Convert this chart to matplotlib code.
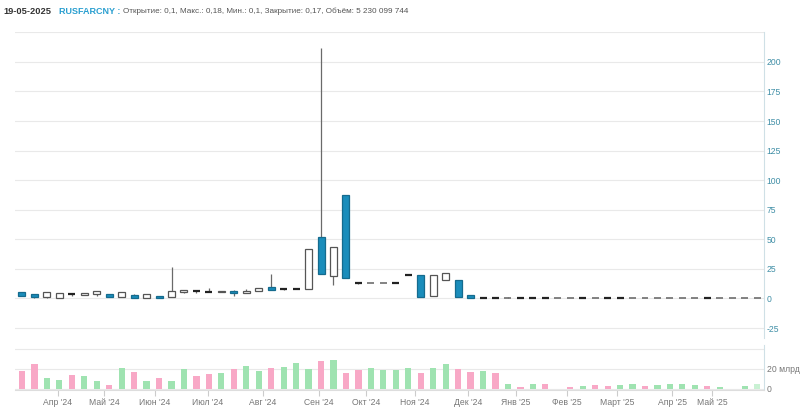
import matplotlib
matplotlib.use("Agg")
import matplotlib.pyplot as plt
import numpy as np

plt.rcParams['font.family'] = ['Liberation Sans', 'DejaVu Sans']

# ---- data (weekly candles, RUSFARCNY) ----
opens  = [5.2, 3.5, 1.0, 0.8, 3.7, 3.0, 3.5, 3.5, 1.0, 3.0,
          0.6, 2.4, 1.0, 5.2, 6.1, 5.8, 5.2, 6.6, 4.4, 6.3,
          10.0, 7.8, 8.0, 8.3, 51.7, 19.3, 87.5, 12.8, 12.9, 13.3,
          13.4, 20.1, 19.6, 2.4, 15.6, 15.6, 3.0, 0.3, 0.3, 0.2,
          0.3, 0.3, 0.3, 0.2, 0.2, 0.3, 0.2, 0.3, 0.3, 0.2,
          0.2, 0.2, 0.2, 0.2, 0.2, 0.3, 0.2, 0.2, 0.2, 0.1]
highs  = [5.5, 3.8, 5.9, 5.0, 4.6, 5.0, 6.5, 3.7, 5.3, 4.2,
          4.1, 2.5, 26.6, 7.4, 7.5, 9.1, 6.4, 6.8, 8.3, 8.8,
          20.7, 8.0, 8.2, 42.0, 211.5, 43.5, 87.6, 13.0, 13.1, 13.5,
          13.5, 20.3, 20.0, 19.7, 21.5, 15.8, 3.1, 0.5, 0.9, 1.0,
          0.4, 0.4, 0.4, 0.3, 0.3, 0.4, 0.3, 0.4, 0.4, 0.3,
          0.3, 0.3, 0.3, 0.3, 0.3, 0.4, 0.3, 0.3, 0.3, 0.18]
lows   = [2.2, 0.8, 0.8, 0.6, 1.8, 2.8, 2.4, 0.9, 0.9, 0.5,
          0.5, 0.2, 0.9, 5.0, 4.5, 5.6, 5.1, 2.1, 4.3, 6.0,
          6.8, 7.6, 7.8, 8.2, 20.5, 11.4, 17.2, 12.6, 12.9, 13.3,
          13.3, 19.9, 1.4, 2.3, 15.5, 1.0, 0.6, 0.1, 0.1, 0.0,
          0.1, 0.1, 0.1, 0.1, 0.1, 0.1, 0.1, 0.1, 0.1, 0.1,
          0.1, 0.1, 0.1, 0.1, 0.1, 0.1, 0.1, 0.1, 0.1, 0.1]
closes = [2.4, 1.0, 5.7, 4.9, 3.6, 4.9, 6.3, 1.0, 5.2, 0.6,
          4.0, 0.3, 6.3, 7.3, 6.0, 5.7, 6.3, 4.4, 6.6, 8.6,
          6.9, 7.8, 8.0, 41.8, 20.7, 43.3, 17.3, 12.8, 13.0, 13.4,
          13.3, 20.1, 1.5, 19.6, 21.3, 1.0, 0.7, 0.2, 0.3, 0.25,
          0.2, 0.2, 0.2, 0.25, 0.25, 0.2, 0.25, 0.2, 0.2, 0.25,
          0.25, 0.25, 0.25, 0.25, 0.25, 0.2, 0.25, 0.25, 0.25, 0.17]

# volume, billions
volumes = [18, 25.3, 11.3, 8.7, 14.3, 13.3, 8, 4.3, 20.7, 17.3,
           8.3, 11.3, 8, 20, 12.7, 15.3, 16, 20, 22.7, 18,
           20.7, 22, 26, 20, 28, 29.3, 16.3, 19.3, 20.7, 19,
           19.3, 20.7, 16.3, 21.3, 24.7, 20, 17.3, 18, 16.3, 5.3,
           2, 5.3, 5.3, 0.3, 2.3, 3.3, 4.3, 3.3, 4, 4.7,
           3.3, 4, 4.7, 5.3, 4, 3.3, 2, 0.5, 2.7, 5.23]
vol_up = [0, 0, 1, 1, 0, 1, 1, 0, 1, 0,
          1, 0, 1, 1, 0, 0, 1, 0, 1, 1,
          0, 1, 1, 1, 0, 1, 0, 0, 1, 1,
          1, 1, 0, 1, 1, 0, 0, 1, 0, 1,
          0, 1, 0, 1, 0, 1, 0, 0, 1, 1,
          0, 1, 1, 1, 1, 0, 1, 1, 1, 1]

month_labels = ["Апр '24", "Май '24", "Июн '24", "Июл '24", "Авг '24", "Сен '24",
                "Окт '24", "Ноя '24", "Дек '24", "Янв '25", "Фев '25", "Март '25",
                "Апр '25", "Май '25"]
month_pos = [2.89, 6.58, 10.67, 14.93, 19.34, 23.84, 27.6, 31.54, 35.8,
             39.65, 43.74, 47.75, 52.17, 55.38]

price_ticks = [200, 175, 150, 125, 100, 75, 50, 25, 0, -25]

# ---- figure ----
W, H = 800, 408
fig = plt.figure(figsize=(W / 100, H / 100), dpi=100)
fig.patch.set_facecolor('white')

left_px, right_px = 15, 764
ax = fig.add_axes([left_px / W, 1 - 338 / H, (right_px - left_px) / W, (338 - 32) / H])
vax = fig.add_axes([left_px / W, 1 - 390 / H, (right_px - left_px) / W, (390 - 345) / H])

n = len(opens)
x = np.arange(n)
xlim = (-0.56, 59.55)

grid_c = '#e9e9e9'
axis_c = '#cfe0e6'
lab_c = '#3f8ea6'

# candles
body_w = 0.56
for i in range(n):
    o, h, l, c = opens[i], highs[i], lows[i], closes[i]
    ax.vlines(x[i], l, h, color='#6a6a6a', lw=0.9, zorder=2)
    if abs(c - o) < 0.6:
        down = c <= o
        ax.hlines((o + c) / 2, x[i] - body_w / 2, x[i] + body_w / 2,
                  color='#222222' if down else '#6e6e6e',
                  lw=1.6 if down else 1.2, zorder=3)
    elif c > o:
        ax.bar(x[i], c - o, bottom=o, width=body_w, facecolor='white',
               edgecolor='#555555', linewidth=0.9, zorder=3)
    else:
        ax.bar(x[i], o - c, bottom=c, width=body_w, facecolor='#1a8dbb',
               edgecolor='#156b8e', linewidth=0.9, zorder=3)

ax.set_xlim(*xlim)
ax.set_ylim(-33.4, 225.3)
for g in [225] + price_ticks:
    ax.axhline(g, color=grid_c, lw=0.8, zorder=0)
ax.yaxis.tick_right()
ax.set_yticks(price_ticks)
ax.set_yticklabels([str(t) for t in price_ticks])
ax.tick_params(axis='y', length=0, pad=2, labelsize=6.2, labelcolor=lab_c)
ax.set_xticks([])
for s in ['top', 'left', 'bottom']:
    ax.spines[s].set_visible(False)
ax.spines['right'].set_color(axis_c)
ax.spines['right'].set_linewidth(0.8)

# volume
vcols = []
for i in range(n):
    if i == n - 1:
        vcols.append('#c9f1d3')
    else:
        vcols.append('#9fe3b1' if vol_up[i] else '#f8a8c6')
vax.bar(x, volumes, width=0.5, color=vcols, zorder=2)
vax.set_xlim(*xlim)
vax.set_ylim(-1, 44)
for g in [0, 20, 40]:
    vax.axhline(g, color=grid_c, lw=0.8, zorder=0)
vax.yaxis.tick_right()
vax.set_yticks([0, 20])
vax.set_yticklabels(['0', '20 млрд'])
vax.tick_params(axis='y', length=0, pad=2, labelsize=6.2, labelcolor='#777777')
vax.set_xticks(month_pos)
vax.set_xticklabels(month_labels)
vax.tick_params(axis='x', length=4, width=0.8, color='#cccccc', pad=1.5,
                labelsize=6.2, labelcolor='#777777')
for s in ['top', 'left']:
    vax.spines[s].set_visible(False)
vax.spines['right'].set_color(axis_c)
vax.spines['right'].set_linewidth(0.8)
vax.spines['bottom'].set_color('#dddddd')
vax.spines['bottom'].set_linewidth(0.8)

# header
t1 = fig.text(3 / W, 1 - 11 / H, '19-05-2025', fontsize=6.7, weight='bold',
              color='#333333', va='center', ha='left')
t2 = ax.annotate('RUSFARCNY :', xy=(1, 0.5), xycoords=t1, xytext=(8, 0),
                 textcoords='offset pixels', fontsize=6.5, weight='bold',
                 color='#2a9fd0', va='center', ha='left', annotation_clip=False)
ax.annotate('Открытие: 0,1, Макс.: 0,18, Мин.: 0,1, Закрытие: 0,17, Объём: 5 230 099 744',
            xy=(1, 0.5), xycoords=t2, xytext=(3, 0), textcoords='offset pixels',
            fontsize=5.9, color='#555555', va='center', ha='left', annotation_clip=False)

fig.savefig('out.png', dpi=100, facecolor='white')
